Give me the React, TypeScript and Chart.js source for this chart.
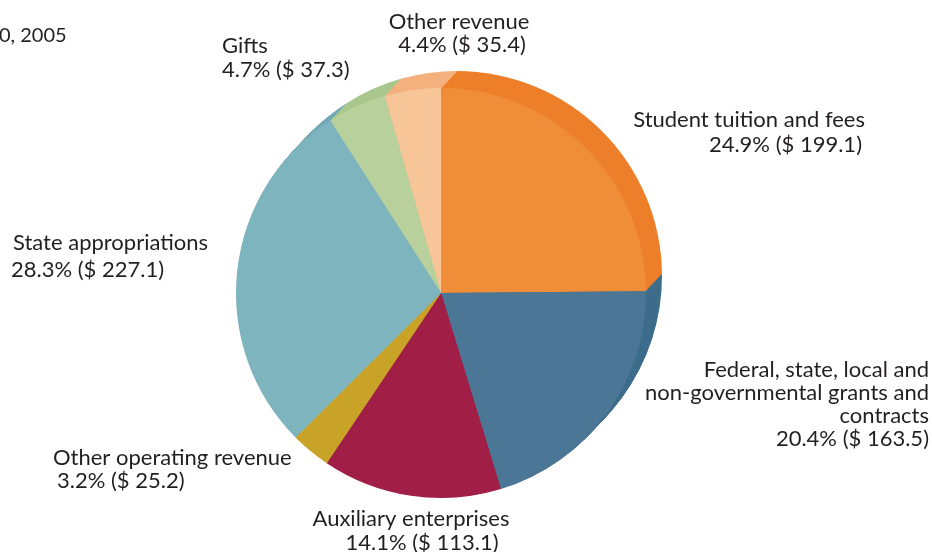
import React, { useEffect, useRef } from "react";
import { Chart, registerables } from "chart.js";

Chart.register(...registerables);

// ---- data ----
const CATEGORIES: string[][] = [
  ["Student tuition and fees"],
  ["Federal, state, local and", "non-governmental grants and", "contracts"],
  ["Auxiliary enterprises"],
  ["Other operating revenue"],
  ["State appropriations"],
  ["Gifts"],
  ["Other revenue"],
];
const PERCENTS = [24.9, 20.4, 14.1, 3.2, 28.3, 4.7, 4.4];
const AMOUNTS = [199.1, 163.5, 113.1, 25.2, 227.1, 37.3, 35.4];
const TITLE_FRAGMENT = "0, 2005";

// ---- styles ----
const FACE_COLORS = ["#F08D38", "#4C7696", "#A11E46", "#C9A228", "#7EB4BE", "#B8D09C", "#F7C598"];
const RIM_COLORS = ["#EE7F2A", "#3E6D8C", "#931A3F", "#B99322", "#72AAB6", "#AAC78E", "#F4B17E"];
const FONT = "Lato, 'Open Sans', sans-serif";
const FONT_SIZE = 22;
const TITLE_SIZE = 20;
const TEXT_COLOR = "#231F20";

// label layout: first baseline y, x per line
const LABEL_LAYOUT = [
  { xs: [865, 862], y: 127, lh: 25, align: "right" },
  { xs: [929, 929, 929, 929], y: 377, lh: 23, align: "right" },
  { xs: [411, 422], y: 526, lh: 24, align: "center" },
  { xs: [53, 57], y: 465, lh: 23, align: "left" },
  { xs: [13, 11], y: 250, lh: 27, align: "left" },
  { xs: [222, 222], y: 53, lh: 24, align: "left" },
  { xs: [459, 462], y: 29, lh: 23, align: "center" },
];
const EXTRUDE = { dx: 16, dy: -17, steps: 24 };

const extrudePlugin = {
  id: "extrude",
  beforeDatasetsDraw(chart: any) {
    const ctx = chart.ctx;
    const meta = chart.getDatasetMeta(0);
    ctx.save();
    for (let s = EXTRUDE.steps; s >= 1; s--) {
      const ox = (EXTRUDE.dx * s) / EXTRUDE.steps;
      const oy = (EXTRUDE.dy * s) / EXTRUDE.steps;
      meta.data.forEach((arc: any, i: number) => {
        const p = arc.getProps(["x", "y", "startAngle", "endAngle", "outerRadius"], true);
        ctx.beginPath();
        ctx.moveTo(p.x + ox, p.y + oy);
        ctx.arc(p.x + ox, p.y + oy, p.outerRadius, p.startAngle, p.endAngle);
        ctx.closePath();
        ctx.fillStyle = RIM_COLORS[i];
        ctx.fill();
      });
    }
    ctx.restore();
  },
};

const labelPlugin = {
  id: "labels",
  afterDraw(chart: any) {
    const ctx = chart.ctx;
    ctx.save();
    ctx.fillStyle = TEXT_COLOR;
    ctx.textBaseline = "alphabetic";
    ctx.textAlign = "left";
    ctx.font = `${TITLE_SIZE}px ${FONT}`;
    ctx.fillText(TITLE_FRAGMENT, -1, 42);
    ctx.font = `${FONT_SIZE}px ${FONT}`;
    CATEGORIES.forEach((name, i) => {
      const lay = LABEL_LAYOUT[i];
      const lines = [...name, `${PERCENTS[i].toFixed(1)}% ($ ${AMOUNTS[i].toFixed(1)})`];
      ctx.textAlign = lay.align;
      lines.forEach((line, j) => {
        ctx.fillText(line, lay.xs[j], lay.y + j * lay.lh);
      });
    });
    ctx.restore();
  },
};

export default function App() {
  const ref = useRef<HTMLCanvasElement | null>(null);
  useEffect(() => {
    if (!ref.current) return;
    const chart = new Chart(ref.current, {
      type: "pie",
      data: {
        labels: CATEGORIES.map((c) => c.join(" ")),
        datasets: [
          {
            data: AMOUNTS,
            backgroundColor: FACE_COLORS,
            borderWidth: 0,
          },
        ],
      },
      options: {
        responsive: false,
        animation: false,
        layout: { padding: { left: 236, right: 286, top: 88, bottom: 54 } },
        plugins: {
          legend: { display: false },
          tooltip: { enabled: false },
          title: { display: false },
        },
      },
      plugins: [extrudePlugin, labelPlugin],
    });
    return () => chart.destroy();
  }, []);
  return (
    <div style={{ position: "fixed", left: 0, top: 0, width: 932, height: 552, background: "#fff" }}>
      <canvas ref={ref} width={932} height={552} />
    </div>
  );
}
